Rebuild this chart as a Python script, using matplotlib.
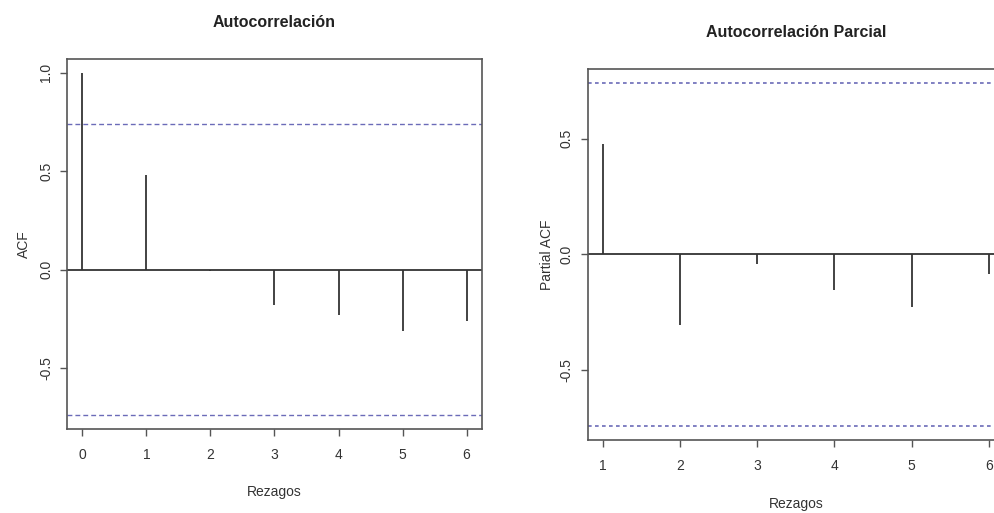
import numpy as np
import matplotlib.pyplot as plt

plt.rcParams['font.family'] = ['Liberation Sans', 'DejaVu Sans']

# data
acf_lags = [0, 1, 2, 3, 4, 5, 6]
acf_vals = [1.0, 0.478, -0.005, -0.178, -0.231, -0.310, -0.263]

pacf_lags = [1, 2, 3, 4, 5, 6]
pacf_vals = [0.476, -0.303, -0.039, -0.153, -0.228, -0.082]

n_obs = 7
clim = 1.96 / np.sqrt(n_obs)

figure_width = 9.95
figure_height = 5.13
fig = plt.figure(figsize=(figure_width, figure_height), dpi=100)

frame_col = '#555555'
ci_col = '#6b6bb8'


def r_style(ax, xticks, yticks):
    for s in ax.spines.values():
        s.set_color(frame_col)
        s.set_linewidth(1.2)
    ax.set_xticks(xticks)
    ax.set_yticks(yticks)
    ax.set_yticklabels(['%.1f' % v for v in yticks], rotation=90, va='center')
    ax.tick_params(axis='both', colors=frame_col, length=5, width=1.0,
                   labelsize=10, labelcolor='#333333')
    ax.tick_params(axis='x', pad=9)
    ax.tick_params(axis='y', pad=5)


# left panel: ACF
panel1 = fig.add_axes([0.0673, 0.1637, 0.4171, 0.7212])
panel1.vlines(acf_lags, 0, acf_vals, color='#222222', linewidth=1.2)
panel1.axhline(0, color='#333333', linewidth=1.3)
panel1.axhline(clim, color=ci_col, linewidth=1.0, linestyle=(0, (3.5, 2.2)))
panel1.axhline(-clim, color=ci_col, linewidth=1.0, linestyle=(0, (3.5, 2.2)))
lo = min(-clim, min(acf_vals))
hi = max(clim, max(acf_vals))
pad = 0.04 * (hi - lo)
panel1.set_ylim(lo - pad, hi + pad)
panel1.set_xlim(-0.24, 6.24)
r_style(panel1, acf_lags, [-0.5, 0.0, 0.5, 1.0])
panel1.set_title('Autocorrelación', fontsize=11.5, fontweight='bold', pad=23,
                 color='#222222')
panel1.set_xlabel('Rezagos', fontsize=10, labelpad=16, color='#333333')
panel1.set_ylabel('ACF', fontsize=10, labelpad=6, color='#333333')

# right panel: PACF
panel2 = fig.add_axes([0.5907, 0.1423, 0.4184, 0.7232])
panel2.vlines(pacf_lags, 0, pacf_vals, color='#222222', linewidth=1.2)
panel2.axhline(0, color='#333333', linewidth=1.3)
panel2.axhline(clim, color=ci_col, linewidth=1.2, linestyle=(0, (2.2, 2.0)))
panel2.axhline(-clim, color=ci_col, linewidth=1.2, linestyle=(0, (2.2, 2.0)))
lo = min(-clim, min(pacf_vals))
hi = max(clim, max(pacf_vals))
pad = 0.04 * (hi - lo)
panel2.set_ylim(lo - pad, hi + pad)
panel2.set_xlim(0.8, 6.2)
r_style(panel2, pacf_lags, [-0.5, 0.0, 0.5])
panel2.set_title('Autocorrelación Parcial', fontsize=11.5, fontweight='bold', pad=23,
                 color='#222222')
panel2.set_xlabel('Rezagos', fontsize=10, labelpad=17, color='#333333')
panel2.set_ylabel('Partial ACF', fontsize=10, labelpad=4, color='#333333')

plt.savefig('out.png', dpi=100)
